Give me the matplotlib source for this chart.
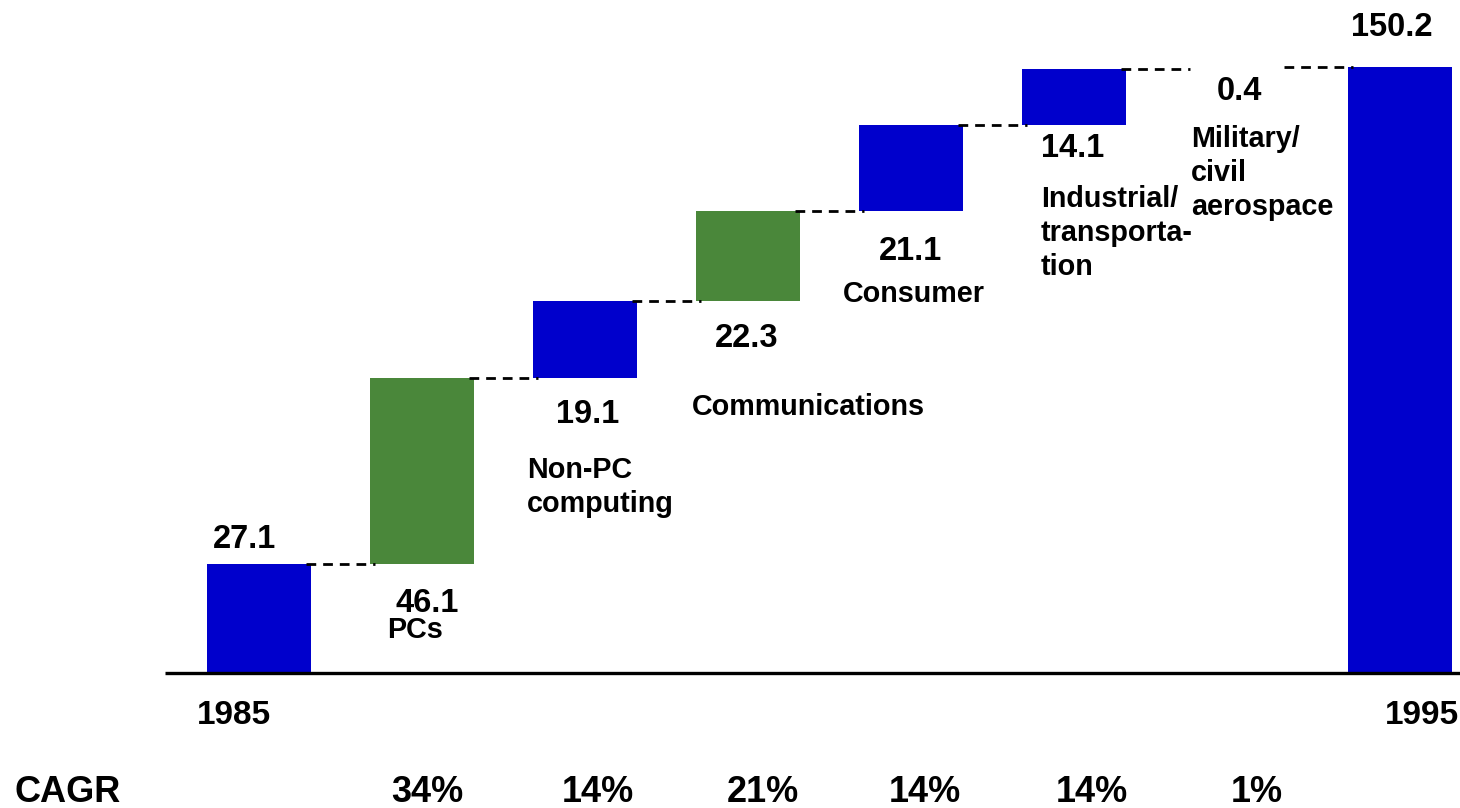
import matplotlib
matplotlib.use("Agg")
import matplotlib.pyplot as plt

# Semiconductor demand bridge, 1985 -> 1995 (value in $B)
categories = ["1985", "PCs", "Non-PC\ncomputing", "Communications", "Consumer",
              "Industrial/\ntransporta-\ntion", "Military/\ncivil\naerospace", "1995"]
values = [27.1, 46.1, 19.1, 22.3, 21.1, 14.1, 0.4, 150.2]
is_total = [True, False, False, False, False, False, False, True]
cagr = ["", "34%", "14%", "21%", "14%", "14%", "1%", ""]

BLUE = "#0000CC"
GREEN = "#4A873A"
bar_colors = [BLUE, GREEN, BLUE, GREEN, BLUE, BLUE, "white", BLUE]

plt.rcParams["font.family"] = ["Liberation Sans", "DejaVu Sans"]
plt.rcParams["font.weight"] = "bold"
plt.rcParams["lines.scale_dashes"] = False

fig = plt.figure(figsize=(14.6, 8.08), dpi=100)
ax = fig.add_axes([0, 0, 1, 1])
px_per_unit = 4.035
step_px = 163.0
ax.set_xlim(-259 / step_px, (1460 - 259) / step_px)
ax.set_ylim(-135 / px_per_unit, 673 / px_per_unit)
ax.axis("off")

width = 0.64
x = list(range(len(values)))

# bottoms of floating bars
bottoms = []
running = 0.0
for v, tot in zip(values, is_total):
    if tot:
        bottoms.append(0.0)
        running = v
    else:
        bottoms.append(running)
        running += v
tops = [b + v for b, v in zip(bottoms, values)]

ax.bar(x, values, bottom=bottoms, width=width, color=bar_colors,
       edgecolor="none", zorder=2)

# dashed connectors between consecutive bars
for i in range(len(values) - 1):
    ax.plot([x[i] + width / 2 - 0.03, x[i + 1] - width / 2 + 0.03],
            [tops[i], tops[i]],
            color="black", lw=2.0, dashes=(7, 5), zorder=3,
            dash_capstyle="butt")

# baseline
ax.plot([(165 - 259) / step_px, (1460 - 259) / step_px], [0, 0],
        color="black", lw=2.4, zorder=4, solid_capstyle="butt")

# value labels: (anchor, dx px, dy px to baseline)
value_pos = [("top", -14, 16), ("bottom", 5, -48), ("bottom", 3, -45),
             ("bottom", -1, -46), ("bottom", -1, -49), ("bottom", -1, -32),
             ("bottom", 2, -31), ("top", -8, 31)]
for i, (v, (anchor, dx, dy)) in enumerate(zip(values, value_pos)):
    y = tops[i] if anchor == "top" else bottoms[i]
    ax.annotate(f"{v:.1f}", xy=(x[i], y), xytext=(dx, dy),
                textcoords="offset pixels", ha="center", va="baseline",
                fontsize=23.5, fontweight="bold", color="black", zorder=5)

# category labels: (dx px from bar left edge, dy px from bar bottom)
cat_pos = {1: (17, -74), 2: (-6, -100), 3: (-4, -114), 4: (-16, -91),
           5: (19, -82), 6: (6, -78)}
line_step = 34
for i, (dx, dy) in cat_pos.items():
    for k, line in enumerate(categories[i].split("\n")):
        ax.annotate(line, xy=(x[i] - width / 2, bottoms[i]),
                    xytext=(dx, dy - k * line_step), textcoords="offset pixels",
                    ha="left", va="baseline", fontsize=20.7,
                    fontweight="bold", color="black", zorder=5)

# year labels under the baseline
for i, dx in ((0, -25), (7, 22)):
    ax.annotate(categories[i], xy=(x[i], 0), xytext=(dx, -51),
                textcoords="offset pixels", ha="center", va="baseline",
                fontsize=24, fontweight="bold", color="black")

# CAGR row
ax.annotate("CAGR", xy=(15 / 1460, 0), xycoords=("axes fraction", "data"),
            xytext=(0, -129), textcoords="offset pixels", ha="left",
            va="baseline", fontsize=26, fontweight="bold", color="black")
cagr_dx = [0, 5, 13, 15, 14, 18, 20, 0]
for i, (txt, dx) in enumerate(zip(cagr, cagr_dx)):
    if txt:
        ax.annotate(txt, xy=(x[i], 0), xytext=(dx, -129),
                    textcoords="offset pixels", ha="center", va="baseline",
                    fontsize=26, fontweight="bold", color="black")

fig.savefig("out.png", dpi=100, facecolor="white")
